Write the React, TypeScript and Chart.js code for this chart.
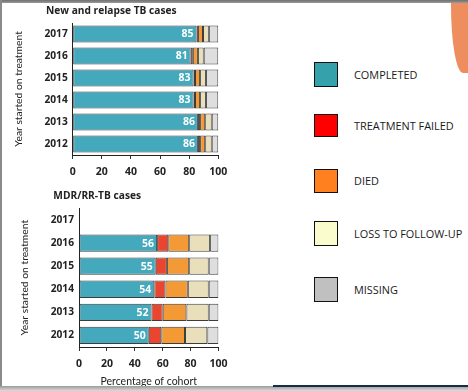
import React, { useEffect, useRef } from 'react';
import { Chart, registerables } from 'chart.js';

Chart.register(...registerables);

// ---------- data ----------
const years = ['2017', '2016', '2015', '2014', '2013', '2012'];
const outcomes = ['COMPLETED', 'TREATMENT FAILED', 'DIED', 'LOSS TO FOLLOW-UP', 'MISSING'];

const newCompleted = [85, 81, 83, 83, 86, 86];
const newFailed = [1, 1.5, 1, 1, 1.5, 1.5];
const newDied = [3.5, 3.5, 3.5, 3.5, 3.5, 3.5];
const newLoss = [4, 4, 4, 4, 4.5, 4.5];
const newMissing = [6.5, 10, 8.5, 8.5, 4.5, 4.5];

const mdrCompleted = [null, 56, 55, 54, 52, 50];
const mdrFailed = [null, 8, 8, 8, 8, 9];
const mdrDied = [null, 15, 16, 16, 17, 17];
const mdrLoss = [null, 15, 14, 15, 16, 16];
const mdrMissing = [null, 6, 7, 7, 7, 8];

const xTickValues = [0, 20, 40, 60, 80, 100];

const topTitle = 'New and relapse TB cases';
const bottomTitle = 'MDR/RR-TB cases';
const yAxisTitle = 'Year started on treatment';
const xAxisTitle = 'Percentage of cohort';

const barColors = ['#44a9bc', '#e9452f', '#f39a36', '#e9dfba', '#dedede'];
const legendColors = ['#35a2ab', '#ff0000', '#ff801f', '#fafccd', '#c0c0c0'];

const TICK_FONT = 'Open Sans';
const TITLE_FONT = 'Lato';
const TEXT = '#222222';

// ---------- plugins ----------
const valueLabels = {
  id: 'valueLabels',
  afterDatasetsDraw(chart: any) {
    const ctx = chart.ctx;
    const meta = chart.getDatasetMeta(0);
    const vals = chart.data.datasets[0].data;
    ctx.save();
    ctx.font = `bold 10.5px "${TICK_FONT}"`;
    ctx.fillStyle = '#ffffff';
    ctx.textAlign = 'right';
    ctx.textBaseline = 'middle';
    meta.data.forEach((bar: any, i: number) => {
      const v = vals[i];
      if (v === null || v === undefined) return;
      ctx.fillText(String(v), bar.x - 3, bar.y + 0.5);
    });
    ctx.restore();
  },
};

const panelTitle = {
  id: 'panelTitle',
  afterDraw(chart: any, _args: any, opts: any) {
    if (!opts || !opts.text) return;
    const ctx = chart.ctx;
    const area = chart.chartArea;
    ctx.save();
    ctx.font = `bold 10.2px "${TICK_FONT}"`;
    ctx.fillStyle = TEXT;
    ctx.textAlign = 'left';
    ctx.textBaseline = 'middle';
    ctx.fillText(opts.text, area.left - opts.dx, area.top - opts.dy);
    ctx.restore();
  },
};

type Geom = {
  title: string;
  padTop: number;
  padRight: number;
  yWidth: number;
  xHeight: number;
  bar: number;
  yTitlePad: number;
  titleDx: number;
  titleDy: number;
  showXTitle: boolean;
};

function makeConfig(series: (number | null)[][], g: Geom): any {
  return {
    type: 'bar',
    data: {
      labels: years,
      datasets: series.map((d, i) => ({
        label: outcomes[i],
        data: d,
        backgroundColor: barColors[i],
        borderColor: '#3c3c3c',
        borderWidth: 1,
        borderSkipped: false,
        barPercentage: g.bar,
        categoryPercentage: 1,
      })),
    },
    options: {
      indexAxis: 'y',
      responsive: false,
      animation: false,
      devicePixelRatio: 1,
      layout: { padding: { left: 0, right: g.padRight, top: g.padTop, bottom: 0 } },
      plugins: {
        legend: { display: false },
        tooltip: { enabled: false },
        title: { display: false },
        panelTitle: { text: g.title, dx: g.titleDx, dy: g.titleDy },
      },
      scales: {
        x: {
          stacked: true,
          min: 0,
          max: 100,
          afterBuildTicks: (s: any) => {
            s.ticks = xTickValues.map((v) => ({ value: v }));
          },
          ticks: {
            padding: 6.5,
            color: TEXT,
            font: { family: TICK_FONT, size: 10.5, weight: 'bold' },
            maxRotation: 0,
          },
          grid: {
            display: true,
            drawOnChartArea: false,
            drawTicks: true,
            tickLength: 4,
            color: '#333333',
          },
          border: { display: true, color: '#222222', width: 1 },
          title: {
            display: g.showXTitle,
            text: xAxisTitle,
            color: TEXT,
            font: { family: TITLE_FONT, size: 10.5 },
            padding: { top: 0, bottom: 3.5 },
          },
          afterFit: (s: any) => {
            s.height = g.xHeight;
          },
        },
        y: {
          stacked: true,
          grid: { display: false, drawTicks: false },
          border: { display: true, color: '#222222', width: 1 },
          ticks: {
            padding: 5,
            color: TEXT,
            font: { family: TICK_FONT, size: 10.2, weight: 'bold' },
          },
          title: {
            display: true,
            text: yAxisTitle,
            color: TEXT,
            font: { family: TITLE_FONT, size: 10.3 },
            padding: { top: g.yTitlePad, bottom: 0 },
          },
          afterFit: (s: any) => {
            s.width = g.yWidth;
          },
        },
      },
    },
    plugins: [valueLabels, panelTitle],
  };
}

function Panel(props: { series: (number | null)[][]; g: Geom; top: number; width: number; height: number }) {
  const ref = useRef<HTMLCanvasElement | null>(null);
  useEffect(() => {
    if (!ref.current) return;
    const chart = new Chart(ref.current, makeConfig(props.series, props.g));
    return () => chart.destroy();
  }, []);
  return (
    <canvas
      ref={ref}
      width={props.width}
      height={props.height}
      style={{ position: 'absolute', left: 0, top: props.top, width: props.width, height: props.height }}
    />
  );
}

const topGeom: Geom = {
  title: topTitle,
  padTop: 23,
  padRight: 15.7,
  yWidth: 72.7,
  xHeight: 30,
  bar: 0.78,
  yTitlePad: 12,
  titleDx: 26.7,
  titleDy: 12,
  showXTitle: false,
};

const bottomGeom: Geom = {
  title: bottomTitle,
  padTop: 23.4,
  padRight: 15.5,
  yWidth: 79,
  xHeight: 44,
  bar: 0.75,
  yTitlePad: 18.7,
  titleDx: 25.7,
  titleDy: 12.4,
  showXTitle: true,
};

export default function App() {
  const legendTops = [62, 114, 169, 221, 277];
  const legendHeights = [25, 23, 24, 25, 25];
  return (
    <div
      style={{
        position: 'fixed',
        left: 0,
        top: 0,
        width: 468,
        height: 391,
        background: '#ffffff',
        overflow: 'hidden',
      }}
    >
      <Panel series={[newCompleted, newFailed, newDied, newLoss, newMissing]} g={topGeom} top={0} width={234} height={185} />
      <Panel series={[mdrCompleted, mdrFailed, mdrDied, mdrLoss, mdrMissing]} g={bottomGeom} top={185} width={234} height={206} />

      {outcomes.map((name, i) => (
        <React.Fragment key={name}>
          <div
            style={{
              position: 'absolute',
              left: 314,
              top: legendTops[i],
              width: 21.5,
              height: legendHeights[i] - 2,
              background: legendColors[i],
              border: '1px solid #111',
            }}
          />
          <div
            style={{
              position: 'absolute',
              left: 354,
              top: legendTops[i] + legendHeights[i] / 2 - 8,
              height: 16,
              lineHeight: '16px',
              fontFamily: 'Open Sans, sans-serif',
              fontSize: 10.9,
              color: '#1a1a1a',
              whiteSpace: 'nowrap',
            }}
          >
            {name}
          </div>
        </React.Fragment>
      ))}

      {/* slide frame decorations */}
      <div style={{ position: 'absolute', left: 451, top: 3, width: 17, height: 70, background: '#ee8d5e', borderBottomLeftRadius: '12px 68px' }} />
      <div style={{ position: 'absolute', left: 0, top: 0, width: 468, height: 3, background: 'linear-gradient(#6f6f6f, #9a9a9a)' }} />
      <div style={{ position: 'absolute', left: 0, top: 0, width: 2, height: 387, background: '#8a8a8a' }} />
      <div style={{ position: 'absolute', left: 0, top: 386, width: 468, height: 5, background: 'linear-gradient(#9a9a9a, #dcdcdc)' }} />
      <div style={{ position: 'absolute', left: 273, top: 385, width: 195, height: 2, background: '#1c2a4a' }} />
    </div>
  );
}
